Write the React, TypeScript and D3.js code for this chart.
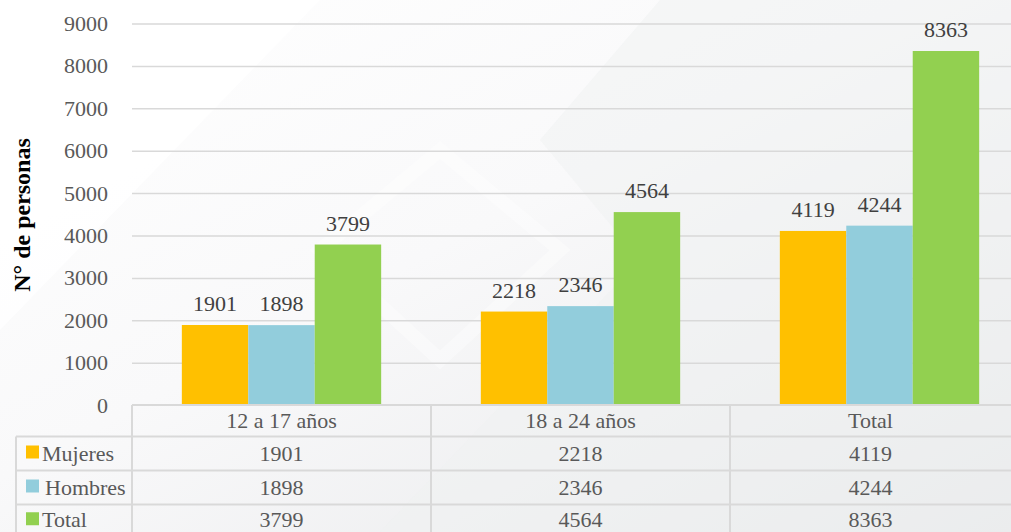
import React, { useRef, useEffect } from 'react';
import * as d3 from 'd3';

const categories = ['12 a 17 años', '18 a 24 años', 'Total'];
const seriesNames = ['Mujeres', 'Hombres', 'Total'];
const mujeres = [1901, 2218, 4119];
const hombres = [1898, 2346, 4244];
const total = [3799, 4564, 8363];
const yTicks = [0, 1000, 2000, 3000, 4000, 5000, 6000, 7000, 8000, 9000];
const colors = ['#FFC000', '#92CDDC', '#92D050'];

const W = 1011;
const H = 532;
const FONT = "'Liberation Serif', 'Times New Roman', serif";

const App = () => {
  const ref = useRef(null);

  useEffect(() => {
    const svg = d3.select(ref.current).attr('width', W).attr('height', H);
    svg.selectAll('*').remove();

    const values = [mujeres, hombres, total];

    // background
    const defs = svg.append('defs');
    const grad = defs.append('linearGradient').attr('id', 'bg')
      .attr('x1', '0').attr('y1', '0').attr('x2', '1').attr('y2', '1');
    grad.append('stop').attr('offset', '0%').attr('stop-color', '#ffffff');
    grad.append('stop').attr('offset', '45%').attr('stop-color', '#f9f9fa');
    grad.append('stop').attr('offset', '100%').attr('stop-color', '#e6e7e9');
    svg.append('rect').attr('width', W).attr('height', H).attr('fill', 'url(#bg)');
    svg.append('polygon').attr('points', '660,0 1011,0 1011,532 380,532 640,260 540,140')
      .attr('fill', '#f0f1f2').attr('opacity', 0.5);
    svg.append('polygon').attr('points', '0,0 320,0 0,330')
      .attr('fill', '#ffffff').attr('opacity', 0.8);
    svg.append('polygon').attr('points', '440,150 560,250 440,360 320,250')
      .attr('fill', 'none').attr('stroke', '#ffffff').attr('stroke-width', 14).attr('opacity', 0.35);

    const x = d3.scaleBand().domain(categories).range([132, 1029]);
    const xi = d3.scaleBand().domain(seriesNames).range([0, x.bandwidth()]).paddingOuter(0.75);
    const y = d3.scaleLinear().domain([0, 9000]).range([405.6, 24]);

    // gridlines
    svg.append('g').selectAll('line').data(yTicks.slice(1)).enter().append('line')
      .attr('x1', 132).attr('x2', W)
      .attr('y1', (d) => y(d)).attr('y2', (d) => y(d))
      .attr('stroke', '#d9d9d9').attr('stroke-width', 1.5);

    // y tick labels
    svg.append('g').selectAll('text').data(yTicks).enter().append('text')
      .attr('x', 108).attr('y', (d) => y(d) + 7)
      .attr('text-anchor', 'end')
      .style('font-family', FONT).style('font-size', '22px').attr('fill', '#595959')
      .text((d) => d);

    // y axis title
    svg.append('text')
      .attr('transform', 'translate(30,215) rotate(-90)')
      .attr('text-anchor', 'middle')
      .style('font-family', FONT).style('font-size', '24px').style('font-weight', 'bold')
      .attr('fill', '#000')
      .text('N° de personas');

    // bars
    seriesNames.forEach((s, si) => {
      const g = svg.append('g');
      g.selectAll('rect').data(values[si]).enter().append('rect')
        .attr('x', (d, i) => x(categories[i]) + xi(s))
        .attr('width', xi.bandwidth())
        .attr('y', (d) => y(d))
        .attr('height', (d) => y(0) - y(d))
        .attr('fill', colors[si]);
      g.selectAll('text').data(values[si]).enter().append('text')
        .attr('x', (d, i) => x(categories[i]) + xi(s) + xi.bandwidth() / 2)
        .attr('y', (d) => y(d) - 14)
        .attr('text-anchor', 'middle')
        .style('font-family', FONT).style('font-size', '22px').attr('fill', '#404040')
        .text((d) => d);
    });

    // data table
    const rowTop = [405, 436.5, 470.5, 504.5, 536];
    const table = svg.append('g');
    const lineCol = '#d9d9d9';
    table.append('line').attr('x1', 132).attr('x2', W).attr('y1', rowTop[0]).attr('y2', rowTop[0])
      .attr('stroke', lineCol).attr('stroke-width', 2);
    [1, 2, 3].forEach((r) => {
      table.append('line').attr('x1', 16).attr('x2', W).attr('y1', rowTop[r]).attr('y2', rowTop[r])
        .attr('stroke', lineCol).attr('stroke-width', 2);
    });
    table.append('line').attr('x1', 16).attr('x2', 16).attr('y1', rowTop[1]).attr('y2', H)
      .attr('stroke', lineCol).attr('stroke-width', 2);
    categories.forEach((c) => {
      table.append('line').attr('x1', x(c)).attr('x2', x(c)).attr('y1', rowTop[0]).attr('y2', H)
        .attr('stroke', lineCol).attr('stroke-width', 2);
    });
    table.selectAll('text.cat').data(categories).enter().append('text')
      .attr('class', 'cat')
      .attr('x', (d) => x(d) + x.bandwidth() / 2 - (d === 'Total' ? 9 : 0))
      .attr('y', 428)
      .attr('text-anchor', 'middle')
      .style('font-family', FONT).style('font-size', '22px').attr('fill', '#595959')
      .text((d) => d);
    seriesNames.forEach((s, si) => {
      const cy = (rowTop[si + 1] + rowTop[si + 2]) / 2;
      table.append('rect').attr('x', 26).attr('y', cy - 8).attr('width', 13).attr('height', 13)
        .attr('fill', colors[si]);
      table.append('text').attr('x', si === 1 ? 45 : 42).attr('y', cy + 7)
        .style('font-family', FONT).style('font-size', '22px').attr('fill', '#595959')
        .text(s);
      table.selectAll('text.v' + si).data(values[si]).enter().append('text')
        .attr('class', 'v' + si)
        .attr('x', (d, i) => x(categories[i]) + x.bandwidth() / 2 - (i === 2 ? 9 : 0))
        .attr('y', cy + 7)
        .attr('text-anchor', 'middle')
        .style('font-family', FONT).style('font-size', '22px').attr('fill', '#595959')
        .text((d) => d);
    });
  }, []);

  return (
    <div style={{ position: 'absolute', left: 0, top: 0 }}>
      <svg ref={ref} style={{ display: 'block' }}></svg>
    </div>
  );
};

export default App;
